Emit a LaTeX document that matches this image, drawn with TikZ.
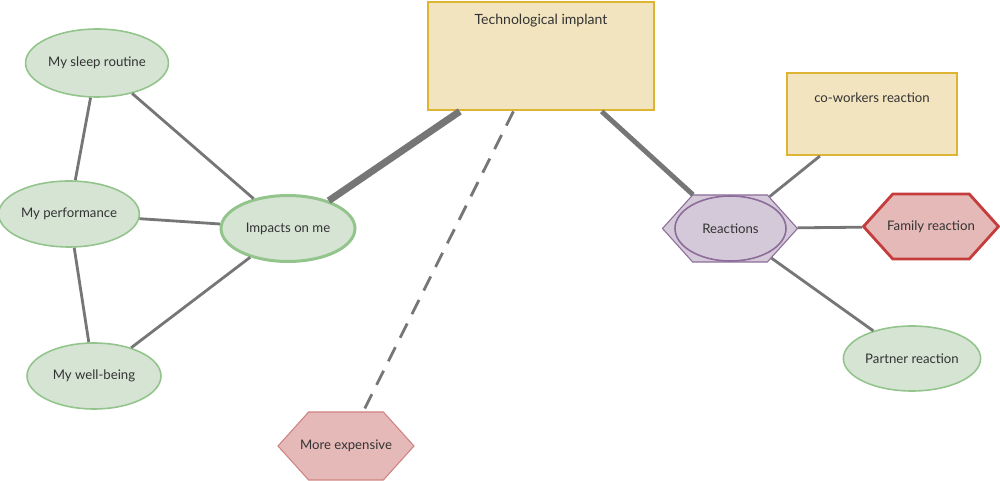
\documentclass[tikz,border=0pt]{standalone}
\usepackage{fontspec}
\setmainfont{Lato}
\usepackage{xcolor}
\usepackage{tikz}
\usetikzlibrary{arrows.meta,positioning,shapes,calc}
\definecolor{ovalgreen} {RGB}{214,228,212}
\definecolor{ovalline}  {RGB}{146,196,140}
\definecolor{boxyellow} {RGB}{241,228,190}
\definecolor{boxline}   {RGB}{222,180,52}
\definecolor{hexred}    {RGB}{229,185,183}
\definecolor{hexline}   {RGB}{196,60,60}
\definecolor{hexlight}  {RGB}{208,130,128}
\definecolor{hexpurple} {RGB}{212,201,216}
\definecolor{purpline}  {RGB}{140,108,154}
\definecolor{linkgray}  {RGB}{118,118,118}
\definecolor{textgray}  {RGB}{51,51,51}
\newcommand{\hextext}[1]{\makebox[0pt]{#1}}
\tikzset{
  oval/.style   ={ellipse, draw=ovalline, fill=ovalgreen, line width=0.9pt,
                  minimum width=2.68cm, minimum height=1.32cm, inner sep=1pt,
                  font=\fontsize{7.5}{9}\selectfont, text=textgray},
  topbox/.style ={draw=boxline, fill=boxyellow, line width=1.2pt,
                  inner sep=0.16cm, font=\fontsize{7.5}{9}\selectfont,
                  text=textgray},
  hexbox/.style ={signal, signal to=east and west, signal pointer angle=96,
                  minimum width=2.7cm, minimum height=1.34cm, inner sep=1pt,
                  fill=hexred, draw=hexlight, line width=0.6pt,
                  font=\fontsize{7.5}{9}\selectfont, text=textgray},
  link/.style   ={draw=linkgray, line width=1.6pt},
}

\begin{document}
\begin{tikzpicture}
  \useasboundingbox (0,0) rectangle (20,-9.62);
  % central topic
  \node[topbox, line width=1.6pt, minimum width=4.52cm, minimum height=2.16cm,
        text height=0.3cm, text depth=1.54cm, font=\fontsize{8}{10}\selectfont]
        (implant) at (10.82,-1.12) {Technological implant};
  % left branch
  \node[oval, line width=1.7pt] (impacts) at (5.76,-4.57) {Impacts on me};
  \node[oval, minimum width=2.72cm, minimum height=1.36cm] (sleep) at (1.94,-1.26) {My sleep routine};
  \node[oval] (perf) at (1.38,-4.28) {My performance};
  \node[oval] (wellbeing) at (1.88,-7.52) {My well-being};
  \node[hexbox, minimum width=2.72cm, minimum height=1.36cm] (expensive) at (6.92,-8.92) {\hextext{More expensive}};
  % right branch
  \node[hexbox, fill=hexpurple, draw=purpline] (reactionshex) at (14.60,-4.57) {};
  \node[oval, fill=hexpurple, draw=purpline, minimum width=2.22cm,
        minimum height=1.30cm] (reactions) at (14.61,-4.57) {Reactions};
  \node[topbox, minimum width=3.40cm, minimum height=1.64cm,
        text height=0.44cm, text depth=0.88cm] (coworkers) at (17.44,-2.28) {co-workers reaction};
  \node[hexbox, draw=hexline, line width=1.6pt, minimum height=1.30cm] (family) at (18.62,-4.53) {\hextext{Family reaction}};
  \node[oval, minimum height=1.30cm] (partner) at (18.24,-7.17) {Partner reaction};

  \draw[link] (sleep) -- (perf);
  \draw[link] (sleep) -- (impacts);
  \draw[link] (perf) -- (impacts);
  \draw[link] (perf) -- (wellbeing);
  \draw[link] (wellbeing) -- (impacts);
  \draw[link, line width=4pt] (implant) -- (impacts);
  \draw[link, dashed, dash pattern=on 9pt off 6pt] (implant) -- (expensive);
  \draw[link, line width=2.8pt] (implant) -- (reactionshex);
  \draw[link] (reactionshex) -- (coworkers);
  \draw[link] (reactionshex) -- (family);
  \draw[link] (reactionshex) -- (partner);
\end{tikzpicture}
\end{document}
